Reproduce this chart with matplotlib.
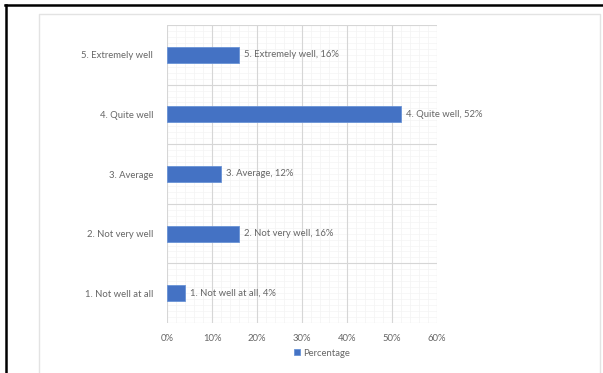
import matplotlib
matplotlib.use("Agg")
import matplotlib.pyplot as plt
from matplotlib.lines import Line2D
from matplotlib.ticker import MultipleLocator, FuncFormatter

categories = ["1. Not well at all", "2. Not very well", "3. Average", "4. Quite well", "5. Extremely well"]
values = [4, 16, 12, 52, 16]
series_name = "Percentage"

plt.rcParams['font.family'] = ['Lato', 'DejaVu Sans']
W, H = 603, 373
fig = plt.figure(figsize=(W/100, H/100), dpi=100)
ax = fig.add_axes([167/W, 1-323/H, (437-167)/W, (323-25)/H])

txt = '#666666'
bars = ax.barh(range(len(categories)), values, height=0.27, color='#4472C4',
               edgecolor='#6a93d6', linewidth=0.6, label=series_name, zorder=3)
for i, (c, v) in enumerate(zip(categories, values)):
    ax.text(v + 1.0, i, f"{c}, {v}%", va='center', ha='left', fontsize=6.8, color=txt, zorder=4)

ax.set_xlim(0, 60)
ax.set_ylim(-0.5, len(categories) - 0.5)
ax.set_yticks(range(len(categories)))
ax.set_yticklabels(categories, fontsize=6.8, color=txt)
ax.xaxis.set_major_locator(MultipleLocator(10))
ax.xaxis.set_major_formatter(FuncFormatter(lambda x, p: f"{int(x)}%"))
ax.tick_params(axis='x', labelsize=6.8, colors=txt, length=0, pad=8)
ax.tick_params(axis='y', length=0, pad=10)
ax.tick_params(which='minor', length=0)
ax.grid(False)
for x in range(0, 61, 10):
    ax.axvline(x, color='#d6d6d6', lw=0.8, zorder=1)
for x in range(0, 61, 2):
    if x % 10:
        ax.axvline(x, color='#f3f3f3', lw=0.5, zorder=0)
for i in range(len(categories) + 1):
    ax.axhline(i - 0.5, color='#d6d6d6', lw=0.8, zorder=1)
for i in range(len(categories)):
    for k in range(1, 10):
        ax.axhline(i - 0.5 + k / 10, color='#f4f4f4', lw=0.5, zorder=0)
for s in ax.spines.values():
    s.set_visible(False)

leg = fig.legend(handles=[bars], labels=[series_name], loc='center', bbox_to_anchor=(322/W, 1-353/H),
                 frameon=False, fontsize=6.8, handlelength=0.6, handleheight=0.6, handletextpad=0.3)
for t in leg.get_texts():
    t.set_color(txt)

# outer frame lines
fig.add_artist(Line2D([5/W, 602/W], [1-4.5/H, 1-4.5/H], color='black', lw=1.8, transform=fig.transFigure))
fig.add_artist(Line2D([5.5/W, 5.5/W], [0, 1-4.5/H], color='black', lw=1.8, transform=fig.transFigure))
# inner chart-area border
fig.add_artist(Line2D([38.5/W, 38.5/W, 600/W, 600/W], [0, 1-14/H, 1-14/H, 0], color='#e3e3e3', lw=1.0, transform=fig.transFigure))

fig.savefig("out.png", dpi=100)
